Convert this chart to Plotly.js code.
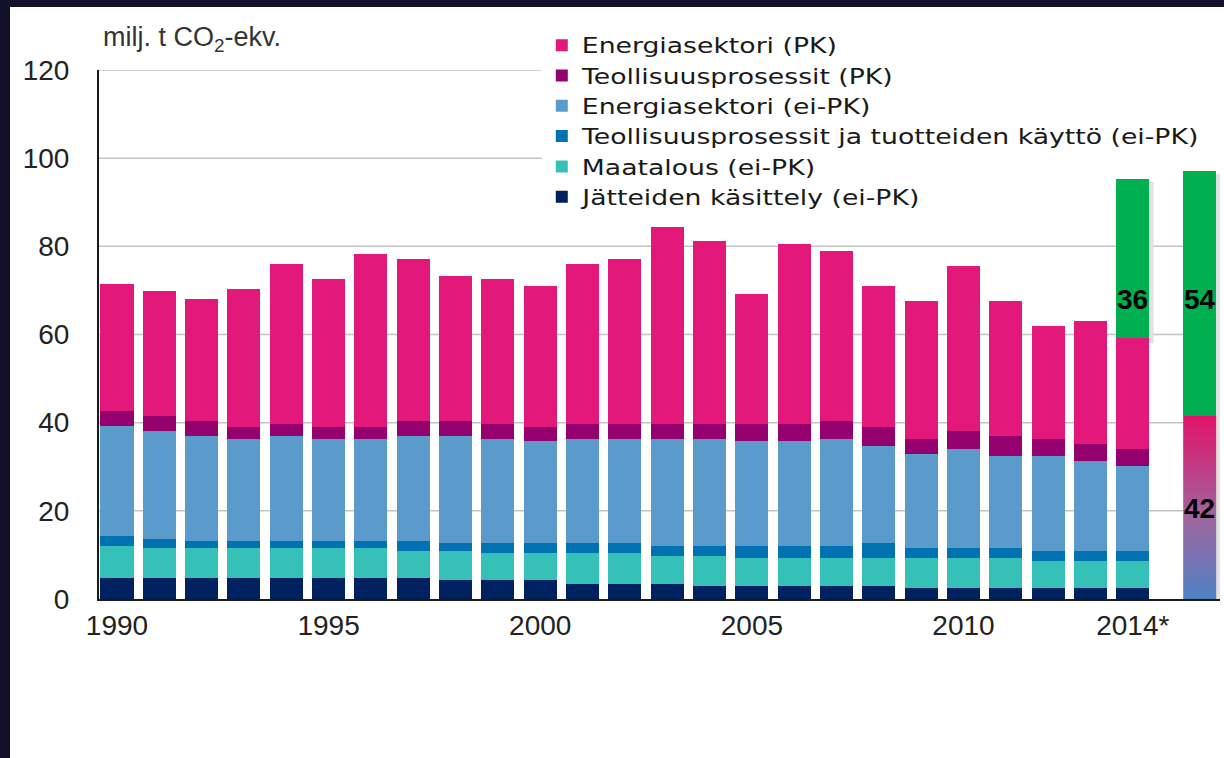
<!DOCTYPE html>
<html>
<head>
<meta charset="utf-8">
<script src="https://cdn.plot.ly/plotly-3.0.1.min.js"></script>
<style>
  html, body { margin: 0; padding: 0; background: #13112a; }
  #chart { position: absolute; left: 10px; top: 7px; width: 1214px; height: 751px; }
  /* the source legend is set in a wide, stretched face */
  .legendtext { transform-box: fill-box; transform-origin: left center; transform: scaleX(1.27); }
</style>
</head>
<body>
<div id="chart"></div>
<script>
// Kasvihuonekaasupäästöt 1990–2014*, milj. t CO2-ekv.
const years = [1990, 1991, 1992, 1993, 1994, 1995, 1996, 1997, 1998, 1999, 2000, 2001, 2002,
               2003, 2004, 2005, 2006, 2007, 2008, 2009, 2010, 2011, 2012, 2013, 2014];

const jatteet = [4.7, 4.7, 4.7, 4.7, 4.7, 4.7, 4.7, 4.7, 4.2, 4.2, 4.2, 3.5, 3.5,
                 3.5, 3.0, 3.0, 3.0, 3.0, 3.0, 2.4, 2.4, 2.4, 2.4, 2.4, 2.4];
const maatalous = [7.4, 6.8, 6.8, 6.8, 6.8, 6.8, 6.8, 6.2, 6.7, 6.2, 6.2, 6.9, 6.9,
                   6.3, 6.8, 6.2, 6.2, 6.2, 6.2, 6.8, 6.8, 6.8, 6.3, 6.3, 6.3];
const teollEiPK = [2.2, 2.2, 1.7, 1.7, 1.7, 1.7, 1.7, 2.3, 1.8, 2.3, 2.3, 2.3, 2.3,
                   2.3, 2.3, 2.9, 2.9, 2.9, 3.5, 2.3, 2.3, 2.3, 2.2, 2.2, 2.2];
const energiaEiPK = [24.9, 24.4, 23.8, 23.2, 23.8, 23.2, 23.2, 23.8, 24.3, 23.7, 23.1, 23.7, 23.7,
                     24.3, 24.3, 23.7, 23.7, 24.3, 22.0, 21.5, 22.6, 21.0, 21.6, 20.4, 19.3];
const teollPK = [3.4, 3.4, 3.4, 2.7, 2.8, 2.7, 2.7, 3.4, 3.4, 3.4, 3.3, 3.4, 3.4,
                 3.4, 3.4, 4.0, 4.0, 4.0, 4.4, 3.4, 4.0, 4.5, 3.9, 3.9, 3.9];
const energiaPK = [28.9, 28.3, 27.7, 31.2, 36.2, 33.5, 39.2, 36.7, 32.8, 32.8, 31.8, 36.2, 37.3,
                   44.7, 41.3, 29.4, 40.7, 38.5, 31.8, 31.1, 37.4, 30.5, 25.5, 27.8, 25.1];

// green blocks on top of 2014 and the summary bar beside it
const summaryX = 2015.58;
const greenX = [2014, summaryX];
const greenY = [36, 55.5];
const summaryBase = 41.5;           // gradient block under the second green one
const summaryLabels = ['36', '54', '42'];

const tickYears = [1990, 1995, 2000, 2005, 2010, 2014];
const tickText = ['1990', '1995', '2000', '2005', '2010', '2014*'];
const gridValues = [20, 40, 60, 80, 100, 120];

const series = [
    { name: 'Jätteiden käsittely (ei-PK)', y: jatteet, color: '#00215f' },
    { name: 'Maatalous (ei-PK)', y: maatalous, color: '#35c1b8' },
    { name: 'Teollisuusprosessit ja tuotteiden käyttö (ei-PK)', y: teollEiPK, color: '#0071b1' },
    { name: 'Energiasektori (ei-PK)', y: energiaEiPK, color: '#5a9bcb' },
    { name: 'Teollisuusprosessit (PK)', y: teollPK, color: '#95006f' },
    { name: 'Energiasektori (PK)', y: energiaPK, color: '#e2187a' },
];

const barWidth = 0.78;

const data = series.map(s => ({
    type: 'bar',
    x: years,
    y: s.y,
    name: s.name,
    width: barWidth,
    marker: { color: s.color, line: { width: 0 } },
    hoverinfo: 'name+y',
}));

// invisible block that lifts the second green bar
data.push({
    type: 'bar',
    x: [summaryX],
    y: [summaryBase],
    width: barWidth,
    marker: { color: 'rgba(0,0,0,0)' },
    showlegend: false,
    hoverinfo: 'skip',
});

data.push({
    type: 'bar',
    x: greenX,
    y: greenY,
    width: barWidth,
    marker: { color: '#00b050', line: { width: 0 } },
    showlegend: false,
});

// gradient block drawn as a filled outline
const half = barWidth / 2;
data.push({
    type: 'scatter',
    mode: 'lines',
    x: [summaryX - half, summaryX + half, summaryX + half, summaryX - half, summaryX - half],
    y: [0, 0, summaryBase, summaryBase, 0],
    fill: 'toself',
    fillgradient: {
        type: 'vertical',
        colorscale: [[0, '#4e82c4'], [0.45, '#a0659f'], [1, '#e2126b']],
    },
    line: { width: 0 },
    showlegend: false,
    hoverinfo: 'skip',
});

// gridlines: the upper two stop where the legend starts
const legendLeft = 0.395;
const gridShapes = gridValues.map(v => ({
    type: 'line', layer: 'below',
    xref: 'paper', x0: 0, x1: v >= 100 ? legendLeft : 1,
    yref: 'y', y0: v, y1: v,
    line: { color: '#c4c4c4', width: 1.5 },
}));

// soft drop shadows behind the highlighted blocks
const last = years.length - 1;
const total2014 = series.reduce((acc, s) => acc + s.y[last], 0);
const greenBase = [total2014, summaryBase];
const shadowShapes = greenX.map((x, i) => ({
    type: 'rect', layer: 'below',
    xref: 'x', x0: x - half + 0.06, x1: x + half + 0.1,
    yref: 'y', y0: greenBase[i] - 1.2, y1: greenBase[i] + greenY[i] - 0.6,
    fillcolor: '#e2e2e2', line: { width: 0 },
}));
shadowShapes.push({
    type: 'rect', layer: 'below',
    xref: 'x', x0: summaryX - half + 0.06, x1: summaryX + half + 0.1,
    yref: 'y', y0: -2, y1: summaryBase - 0.6,
    fillcolor: '#e2e2e2', line: { width: 0 },
});

const labelFont = { family: 'Liberation Sans, Arial, sans-serif', size: 28, color: '#000' };

const layout = {
    width: 1214,
    height: 751,
    margin: { l: 89, r: 4, t: 63, b: 159 },
    paper_bgcolor: '#ffffff',
    plot_bgcolor: '#ffffff',
    barmode: 'stack',
    bargap: 0,
    font: { family: 'Liberation Sans, Arial, sans-serif', size: 28, color: '#222' },
    xaxis: {
        type: 'linear',
        range: [1989.575, 2016.06],
        tickvals: tickYears,
        ticktext: tickText,
        ticks: '',
        ticklabelstandoff: 0,
        showgrid: false,
        zeroline: false,
        showline: true,
        linecolor: '#1a1a1a',
        linewidth: 2,
        fixedrange: true,
    },
    yaxis: {
        range: [0, 120],
        dtick: 20,
        ticks: '',
        ticklabelstandoff: 22,
        showgrid: false,
        zeroline: false,
        showline: true,
        linecolor: '#1a1a1a',
        linewidth: 2,
        fixedrange: true,
    },
    legend: {
        traceorder: 'reversed',
        x: legendLeft,
        xanchor: 'left',
        y: 1.085,
        yanchor: 'top',
        bgcolor: 'rgba(0,0,0,0)',
        font: { family: 'DejaVu Sans, sans-serif', size: 21, color: '#1a1a1a' },
        itemclick: false,
        itemdoubleclick: false,
    },
    shapes: gridShapes.concat(shadowShapes),
    annotations: [
        {
            text: 'milj. t CO<sub>2</sub>-ekv.',
            xref: 'paper', yref: 'paper',
            x: 0.002, y: 1.022,
            xanchor: 'left', yanchor: 'bottom',
            showarrow: false,
            font: { family: 'Liberation Sans, Arial, sans-serif', size: 27, color: '#333' },
        },
        {
            text: '<b>' + summaryLabels[0] + '</b>', x: greenX[0], y: 68,
            showarrow: false, font: labelFont,
        },
        {
            text: '<b>' + summaryLabels[1] + '</b>', x: greenX[1], y: 68,
            showarrow: false, font: labelFont,
        },
        {
            text: '<b>' + summaryLabels[2] + '</b>', x: summaryX, y: 20.6,
            showarrow: false, font: labelFont,
        },
    ],
};

Plotly.newPlot('chart', data, layout, { displayModeBar: false, staticPlot: true });
</script>
</body>
</html>
